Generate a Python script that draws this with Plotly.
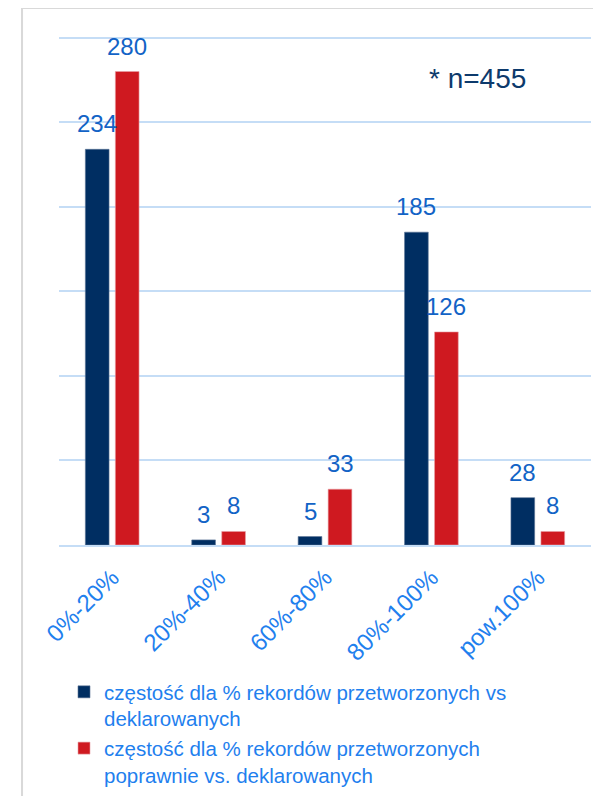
import plotly.graph_objects as go

categories = ["0%-20%", "20%-40%", "60%-80%", "80%-100%", "pow.100%"]
series_a_name = "częstość dla % rekordów przetworzonych vs<br>deklarowanych"
series_b_name = "częstość dla % rekordów przetworzonych<br>poprawnie vs. deklarowanych"
series_a = [234, 3, 5, 185, 28]
series_b = [280, 8, 33, 126, 8]
note_text = "* n=455"
y_ticks = [0, 50, 100, 150, 200, 250, 300]

NAVY = "#002E62"
RED = "#CF1920"
LABEL_BLUE = "#1263C6"
TICK_BLUE = "#1F80EE"
FONT = "Liberation Sans, Arial, sans-serif"

fig = go.Figure()
fig.add_trace(go.Bar(x=categories, y=series_a, name=series_a_name,
                     marker=dict(color=NAVY, line=dict(color="#5A7396", width=0.6))))
fig.add_trace(go.Bar(x=categories, y=series_b, name=series_b_name,
                     marker=dict(color=RED, line=dict(color="#E8A0A4", width=0.6))))

# value labels
for vals, shift in ((series_a, -15), (series_b, 15)):
    for c, v in zip(categories, vals):
        fig.add_annotation(x=c, y=v, text=str(v), showarrow=False,
                           xref="x", yref="y", xanchor="center", yanchor="bottom",
                           xshift=shift, yshift=10,
                           font=dict(family=FONT, size=24, color=LABEL_BLUE))

fig.add_annotation(x=0.786, y=0.917, xref="paper", yref="paper", text=note_text,
                   showarrow=False, xanchor="center", yanchor="middle",
                   font=dict(family=FONT, size=28, color="#0D3A6C"))

# outer frame
fig.add_shape(type="rect", xref="paper", yref="paper",
              x0=-0.0695, x1=1.2, y0=-0.6, y1=1.0548,
              line=dict(color="#D9D9D9", width=2), layer="below")

fig.update_layout(
    width=593, height=788,
    margin=dict(l=51, r=10, t=28, b=251, autoexpand=False),
    paper_bgcolor="white", plot_bgcolor="white",
    barmode="group", bargap=0.436, bargroupgap=0.21,
    font=dict(family=FONT, color=TICK_BLUE),
    showlegend=True,
    legend=dict(x=0.0094, y=-0.2495, xanchor="left", yanchor="top",
                font=dict(family=FONT, size=20.5, color=TICK_BLUE),
                valign="top", tracegroupgap=0, itemwidth=30,
                bgcolor="rgba(0,0,0,0)"),
    xaxis=dict(tickangle=-45, tickfont=dict(family=FONT, size=24, color=TICK_BLUE),
               showline=True, linecolor="#C5DDF6", linewidth=2,
               ticks="", showgrid=False, ticklabelstandoff=7),
    yaxis=dict(range=[0, 301], tickvals=y_ticks, showticklabels=False,
               showgrid=True, gridcolor="#C5DDF6", gridwidth=1.5,
               zeroline=False, showline=False, ticks=""),
)

fig.write_html("out.html")
